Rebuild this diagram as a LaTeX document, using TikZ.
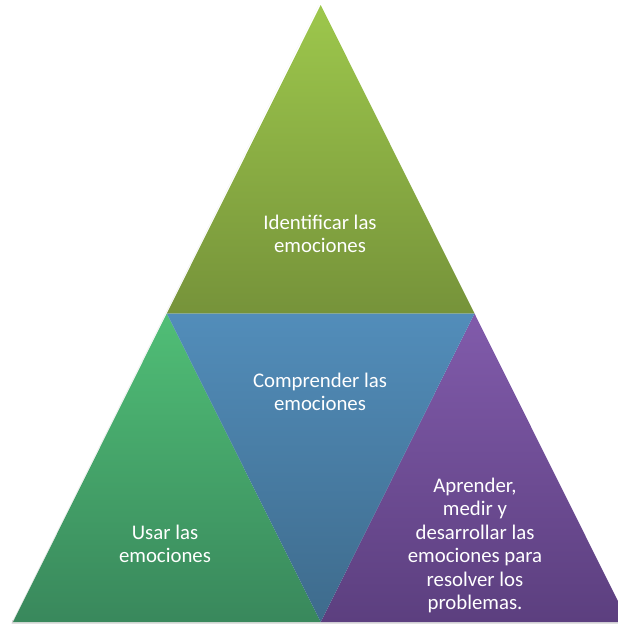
\documentclass[tikz,border=0pt]{standalone}
\usepackage{fontspec}
\setmainfont{Carlito}
\begin{document}
\begin{tikzpicture}[x=1pt,y=-1pt,
  label/.style={text=white,align=center,font=\fontsize{20.8}{23.5}\selectfont,inner sep=0pt},
  part/.style={draw=none}]
\useasboundingbox (0,0) rectangle (618,624);
\clip (0,0) rectangle (618,624);
% corner points of the pyramid
\coordinate (A) at (320.7,5);
\coordinate (BL) at (13,622);
\coordinate (BR) at (628.4,622);
\coordinate (ML) at (166.8,313.5);
\coordinate (MR) at (474.5,313.5);
\coordinate (MB) at (320.7,622);
% soft shadow below the base
\fill[black,opacity=0.12] ([xshift=-1pt,yshift=-3pt]BL) -- ([yshift=-3pt]BR) -- ([yshift=2pt]BR) -- ([xshift=-1pt,yshift=2pt]BL) -- cycle;
\fill[black,opacity=0.08] ([xshift=-2pt]A) -- ([xshift=-2pt,yshift=-2pt]BL) -- (BL) -- cycle;
% the four triangles
\shade[part,top color={rgb,255:red,157;green,199;blue,76},bottom color={rgb,255:red,118;green,147;blue,58}] (A) -- (ML) -- (MR) -- cycle;
\shade[part,top color={rgb,255:red,80;green,190;blue,118},bottom color={rgb,255:red,57;green,136;blue,92}] (ML) -- (BL) -- (MB) -- cycle;
\shade[part,top color={rgb,255:red,129;green,91;blue,171},bottom color={rgb,255:red,92;green,63;blue,127}] (MR) -- (MB) -- (BR) -- cycle;
\shade[part,top color={rgb,255:red,82;green,141;blue,186},bottom color={rgb,255:red,62;green,107;blue,140}] (ML) -- (MR) -- (MB) -- cycle;
% labels
\node[label] (t1) at (320,234) {Identificar las\\emociones};
\node[label] (t2) at (320,392) {Comprender las\\emociones};
\node[label] (t3) at (165,544) {Usar las\\emociones};
\node[label] (t4) at (475,545.5) {Aprender,\\medir y\\desarrollar las\\emociones para\\resolver los\\problemas.};
\end{tikzpicture}
\end{document}
